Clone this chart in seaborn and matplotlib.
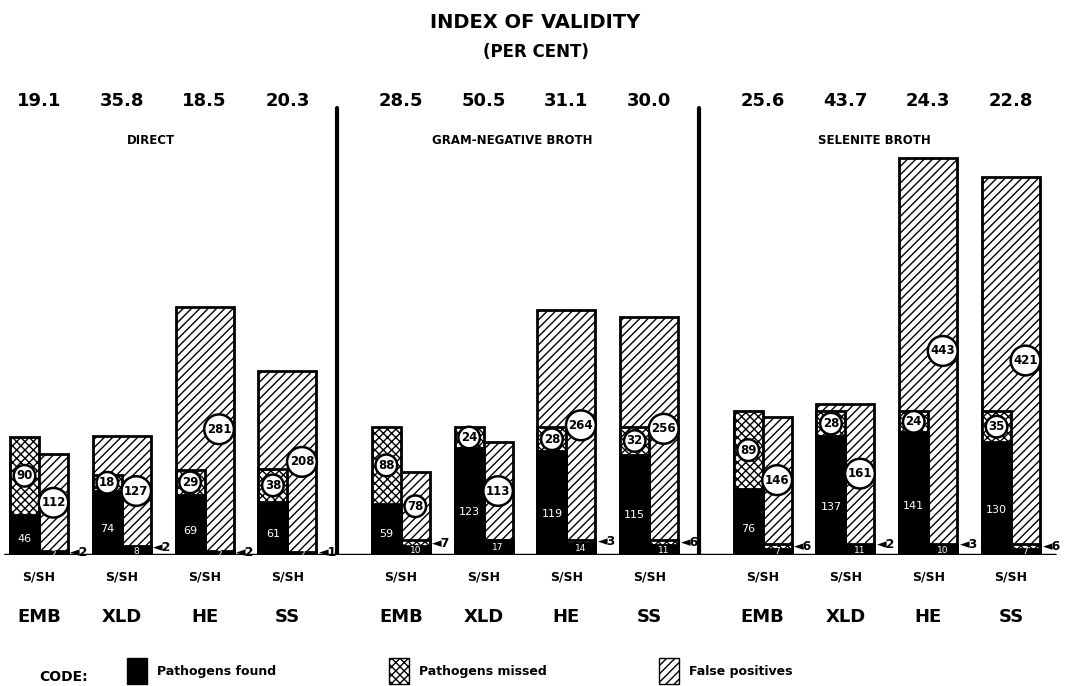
import pandas as pd
import seaborn as sns
import matplotlib.pyplot as plt
from matplotlib.patches import Patch
from matplotlib.transforms import blended_transform_factory

# chart data (counts per medium, S = left bar, SH = right bar)
groups = ["DIRECT", "GRAM-NEGATIVE BROTH", "SELENITE BROTH"]
media = ["EMB", "XLD", "HE", "SS"]
index_validity = ["19.1", "35.8", "18.5", "20.3",
                  "28.5", "50.5", "31.1", "30.0",
                  "25.6", "43.7", "24.3", "22.8"]
s_found = [46, 74, 69, 61, 59, 123, 119, 115, 76, 137, 141, 130]
s_missed = [90, 18, 29, 38, 88, 24, 28, 32, 89, 28, 24, 35]
sh_found = [2, 8, 2, 2, 10, 17, 14, 11, 7, 11, 10, 7]
sh_missed = [2, 2, 2, 1, 7, 0, 3, 6, 6, 2, 3, 6]
false_pos = [112, 127, 281, 208, 78, 113, 264, 256, 146, 161, 443, 421]

group_gap = 0.37
bar_w = 0.35

# build the table
rows = []
for g, grp in enumerate(groups):
    for m, med in enumerate(media):
        rows.append({"group": grp, "medium": med, "x": g * (len(media) + group_gap) + m})
df = pd.DataFrame(rows)
df["s_found"] = s_found
df["s_missed"] = s_missed
df["sh_found"] = sh_found
df["sh_missed"] = sh_missed
df["fp"] = false_pos
df["s_total"] = df.s_found + df.s_missed
df["sh_base"] = df.sh_found + df.sh_missed
df["sh_total"] = df.sh_base + df.fp
df["xl"] = df.x - bar_w / 2
df["xr"] = df.x + bar_w / 2

sns.set_style("white")
plt.rcParams["font.family"] = ["DejaVu Sans"]
plt.rcParams["text.color"] = "black"
plt.rcParams["hatch.linewidth"] = 1.0

fig = plt.figure(figsize=(10.71, 6.86), dpi=100)
ymax = 520
ax = fig.add_axes([0, 0.191, 1, 0.6595])

common = dict(native_scale=True, orient="x", saturation=1, errorbar=None,
              edgecolor="black", linewidth=2, ax=ax)

# false positives: one wide box behind the pair
sns.barplot(data=df, x="x", y="sh_total", width=2 * bar_w, color="white", hatch="////", **common)
# SH bar: missed then found
sns.barplot(data=df, x="xr", y="sh_base", width=bar_w, color="white", hatch="xxxx", **common)
sns.barplot(data=df, x="xr", y="sh_found", width=bar_w, color="black", **common)
# S bar: missed then found
sns.barplot(data=df, x="xl", y="s_total", width=bar_w, color="white", hatch="xxxx", **common)
sns.barplot(data=df, x="xl", y="s_found", width=bar_w, color="black", **common)

circ = dict(boxstyle="circle,pad=0.22", fc="white", ec="black", lw=1.8)
for _, r in df.iterrows():
    # circled counts
    ax.text(r.xl, r.s_found + r.s_missed / 2, str(r.s_missed), ha="center", va="center",
            fontsize=8.5, fontweight="bold", bbox=circ, zorder=5)
    ax.text(r.xr, r.sh_base + r.fp / 2, str(r.fp), ha="center", va="center",
            fontsize=8.5, fontweight="bold", bbox=circ, zorder=5)
    # found counts in white
    ax.text(r.xl, r.s_found * 0.4, str(r.s_found), ha="center", va="center",
            fontsize=8, color="white", zorder=5)
    ax.text(r.xr, r.sh_found / 2, str(r.sh_found), ha="center", va="center",
            fontsize=6.5, color="white", zorder=5)
    if r.sh_missed > 0:
        ax.text(r.x + bar_w + 0.03, r.sh_found + r.sh_missed / 2, "\u25c4" + str(r.sh_missed),
                ha="left", va="center", fontsize=9, fontweight="bold", zorder=5)

# dividers between the three procedures and the base line
for g in range(1, len(groups)):
    xd = g * (len(media) + group_gap) - (1 + group_gap) / 2 - 0.08
    ax.axvline(xd, ymin=0, ymax=0.988, color="black", lw=3)
ax.axhline(0, xmin=0.005, xmax=0.985, color="black", lw=2.5)

ax.set_xlim(-0.471, 12.464)
ax.set_ylim(0, ymax)
ax.axis("off")

# text above and below the bars
tr = blended_transform_factory(ax.transData, fig.transFigure)
for x, iv in zip(df.x, index_validity):
    ax.text(x, 1 - 101 / 686, iv, transform=tr, ha="center", va="center",
            fontsize=13, fontweight="bold")
for g, grp in enumerate(groups):
    gx = df.x[df.group == grp].mean() - 0.15
    ax.text(gx, 1 - 141 / 686, grp, transform=tr, ha="center", va="center",
            fontsize=8.5, fontweight="bold")
for x, med in zip(df.x, df.medium):
    ax.text(x, 1 - 577 / 686, "S/SH", transform=tr, ha="center", va="center",
            fontsize=9, fontweight="bold")
    ax.text(x, 1 - 617 / 686, med, transform=tr, ha="center", va="center",
            fontsize=13, fontweight="bold")

fig.text(0.5, 1 - 22 / 686, "INDEX OF VALIDITY", ha="center", va="center",
         fontsize=14, fontweight="bold")
fig.text(0.5, 1 - 52 / 686, "(PER CENT)", ha="center", va="center",
         fontsize=12, fontweight="bold")

# code / legend
fig.text(0.037, 1 - 677 / 686, "CODE:", ha="left", va="center", fontsize=10, fontweight="bold")
handles = [Patch(facecolor="black", edgecolor="black"),
           Patch(facecolor="white", edgecolor="black", hatch="xxxx"),
           Patch(facecolor="white", edgecolor="black", hatch="////")]
fig.legend(handles, ["Pathogens found", "Pathogens missed", "False positives"],
           loc="center left", bbox_to_anchor=(0.108, 1 - 671 / 686), ncol=3,
           frameon=False, handlelength=1.6, handleheight=2.8, handletextpad=0.8,
           columnspacing=9, prop={"weight": "bold", "size": 9})

fig.savefig("out.png", dpi=100)
